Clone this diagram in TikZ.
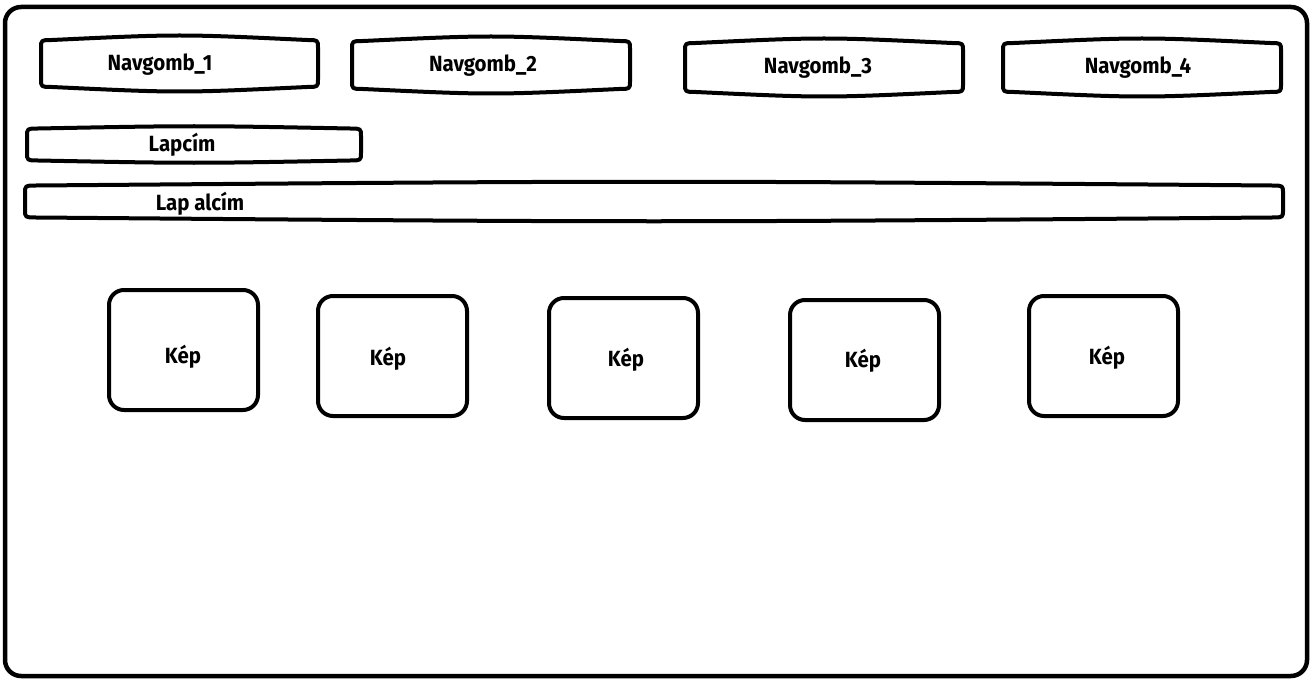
\documentclass[tikz,border=0pt]{standalone}
\usepackage{fontspec}
\newfontfamily\labelfont{Fira Sans}[FakeStretch=0.93]
\begin{document}
\begin{tikzpicture}[x=1pt,y=-1pt,
  frame/.style={line width=4.5pt,line join=round},
  outline/.style={line width=4pt,line join=round},
  lbl/.style={font=\labelfont\bfseries\fontsize{22}{26}\selectfont,inner sep=0pt}]
\useasboundingbox (0,0) rectangle (1314,682);
\fill[white] (0,0) rectangle (1314,682);

% barrel-shaped box: #1,#2 top-left, #3,#4 bottom-right, #5 bulge, #6 name, #7 label pos x, #8 label pos y, #9 text
\newcommand\barrelbox[9]{%
  \draw[outline] (#1,#2+#5+8) -- (#1,#4-#5-8)
    .. controls (#1,#4-#5) .. (#1+11,#4-#5)
    .. controls ({(#1+#3)/2},#4+#5) .. (#3-11,#4-#5)
    .. controls (#3,#4-#5) .. (#3,#4-#5-8)
    -- (#3,#2+#5+8)
    .. controls (#3,#2+#5) .. (#3-11,#2+#5)
    .. controls ({(#1+#3)/2},#2-#5) .. (#1+11,#2+#5)
    .. controls (#1,#2+#5) .. cycle;
  \node[lbl] (#6) at (#7,#8) {#9};}

% outer page frame
\draw[frame,rounded corners=16pt] (5,7) rectangle (1307,676);

% navigation buttons
\barrelbox{41}{37}{318}{90}{3}{nav1}{160}{65}{Navgomb\_1}
\barrelbox{352}{38}{630}{92}{3}{nav2}{483}{66}{Navgomb\_2}
\barrelbox{685}{40}{963}{95}{3}{nav3}{818}{68}{Navgomb\_3}
\barrelbox{1003}{40}{1281}{95}{3}{nav4}{1138}{68}{Navgomb\_4}

% page title and subtitle
\barrelbox{27}{127}{361}{162}{1.5}{title}{182}{145}{Lapcím}
\barrelbox{25}{183}{1283}{220}{2.5}{subtitle}{200}{204}{Lap alcím}

% image placeholders
\foreach \x/\y/\n/\tx/\ty in {109/290/1/183/357, 318/296/2/388/359, 549/298/3/626/360, 790/300/4/863/361, 1029/296/5/1107/358}{
  \draw[outline,rounded corners=15pt] (\x,\y) rectangle (\x+149,\y+120);
  \node[lbl] (img\n) at (\tx,\ty) {Kép};
}
\end{tikzpicture}
\end{document}
